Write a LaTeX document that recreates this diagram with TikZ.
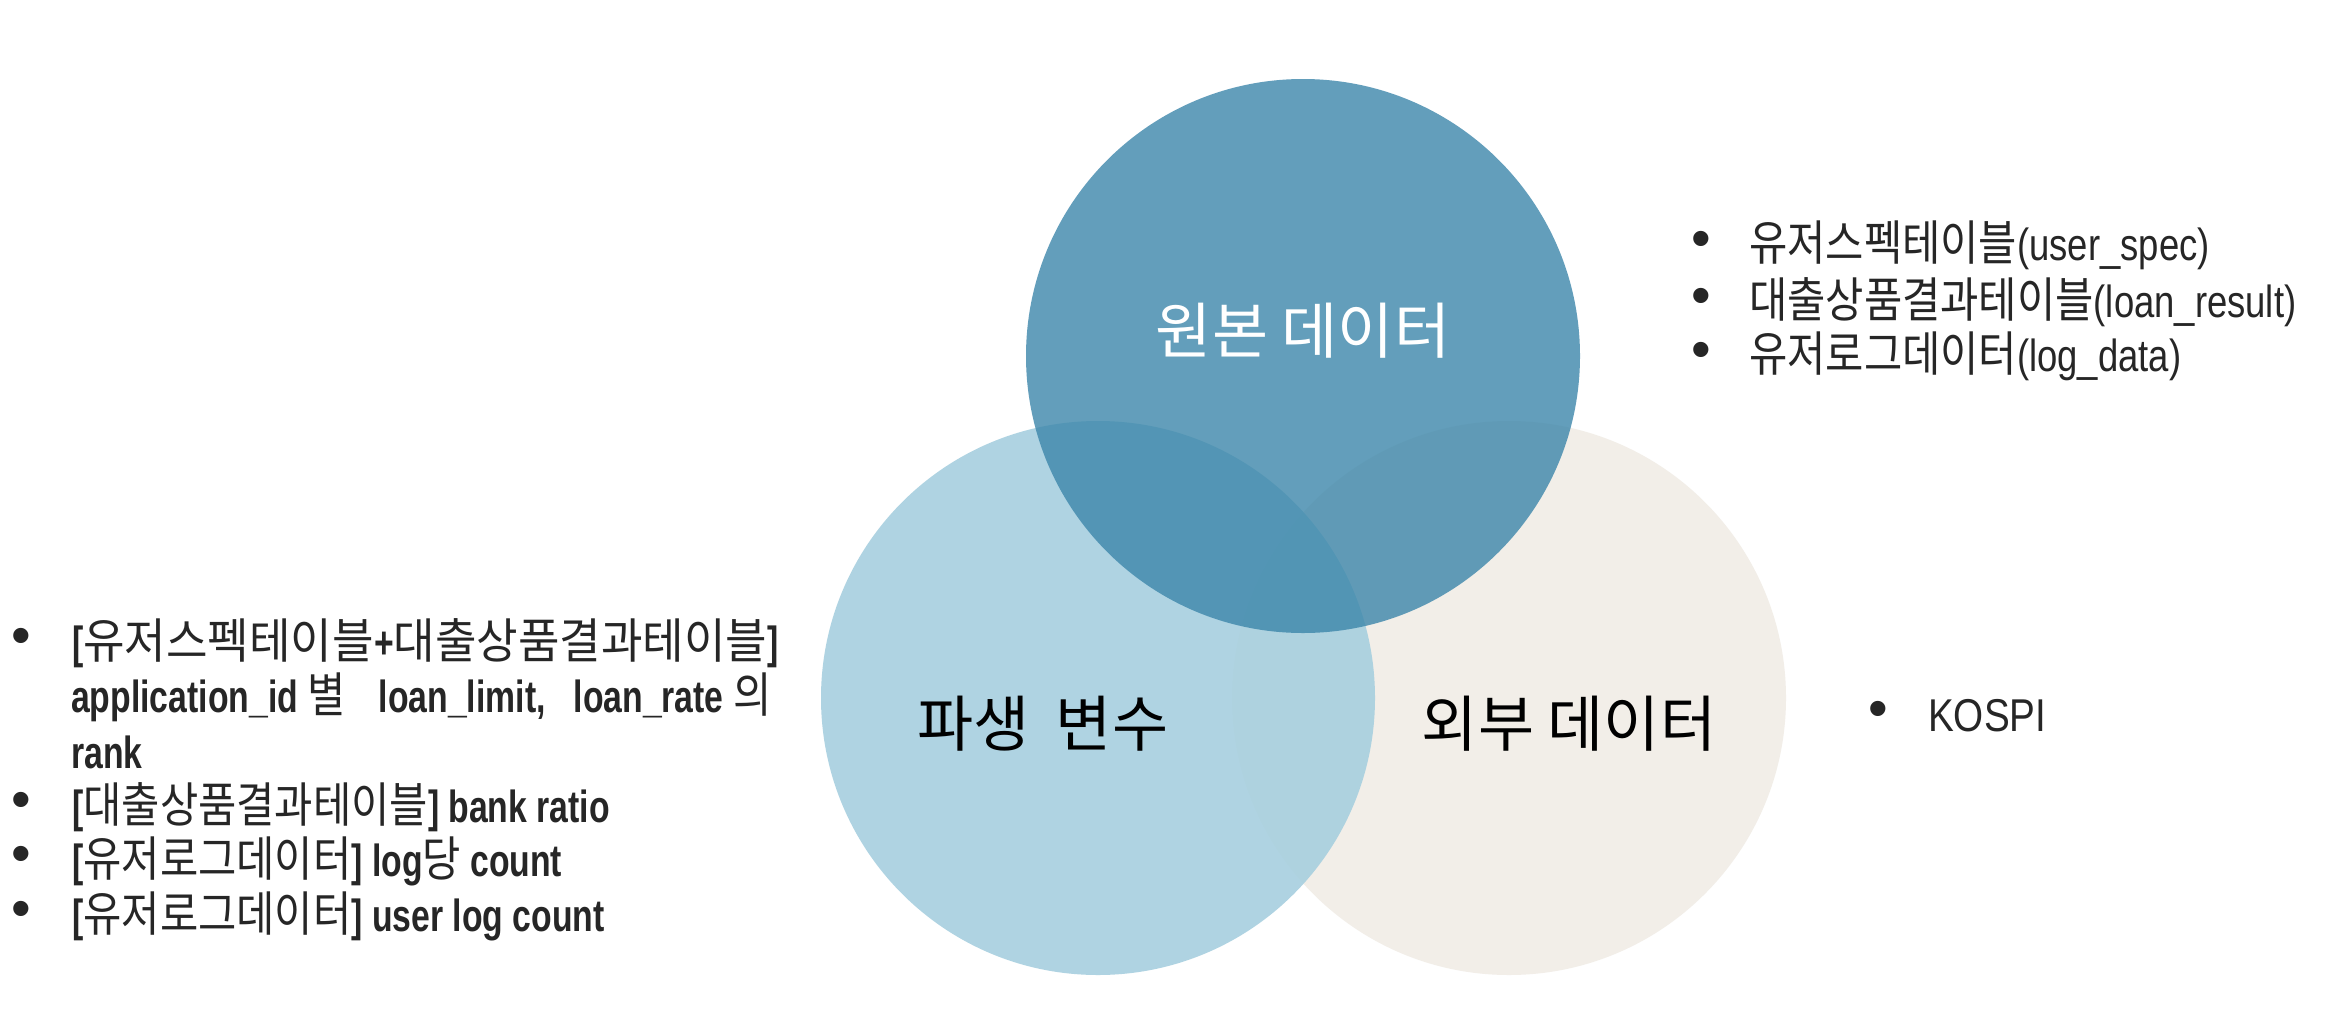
\documentclass[tikz,border=0pt]{standalone}
\usepackage{fontspec}
\newfontfamily\kr{Noto Sans CJK KR}
\newfontfamily\krA{Noto Sans CJK KR}[FakeStretch=0.94]
\newfontfamily\krB{Noto Sans CJK KR}[FakeStretch=0.867]
\newfontfamily\laB{Liberation Sans}[FakeStretch=0.75]
\newfontfamily\laR{Liberation Sans}[FakeStretch=0.81]
\newfontfamily\laK{Liberation Sans}[FakeStretch=0.84]
\newfontfamily\bulf{Liberation Sans}
\newcommand\kA[1]{{\krA\mdseries\fontsize{48}{52}\selectfont #1}}
\newcommand\kB[1]{{\krB\mdseries\fontsize{48}{52}\selectfont #1}}
\definecolor{orgc}{RGB}{60,134,170}
\definecolor{derc}{RGB}{167,207,223}
\definecolor{extc}{RGB}{242,238,232}
\definecolor{txt}{RGB}{38,38,38}
\tikzset{
  circ/.style={circle, minimum size=554pt, inner sep=0pt, draw=none},
  lbl/.style={inner sep=0pt, font=\kr\fontsize{61}{66}\selectfont, text=black},
  lst/.style={anchor=west, inner sep=0pt, text=txt, font=\laB\bfseries\fontsize{45}{50}\selectfont, text height=40pt, text depth=4pt},
  lstR/.style={anchor=west, inner sep=0pt, text=txt, font=\laR\fontsize{45}{50}\selectfont, text height=40pt, text depth=4pt},
  bul/.style={anchor=center, inner sep=0pt, text=txt, font=\bulf\fontsize{56}{60}\selectfont, text height=40pt, text depth=4pt}
}
\begin{document}
\begin{tikzpicture}[x=1pt,y=-1pt]
\useasboundingbox (0,0) rectangle (2340,1034);
\fill[white] (0,0) rectangle (2340,1034);
% circles
\node[circ, fill=extc] (ext) at (1509,698) {};
\node[circ, fill=derc, fill opacity=0.9] (der) at (1098,698) {};
\node[circ, fill=orgc, fill opacity=0.8] (org) at (1303,356) {};
% circle labels
\node[lbl, text=white] (orgl) at (1303,331) {원본 데이터};
\node[lbl] (derl) at (1043,724) {파생\hspace{0.2em} 변수};
\node[lbl] (extl) at (1569,724) {외부 데이터};
% right list
\node[bul] (rb1) at (1701,239) {•};
\node[lstR] (r1) at (1749,242) {\kB{유저스펙테이블}(user\_spec)};
\node[bul] (rb2) at (1701,296) {•};
\node[lstR] (r2) at (1749,299) {\kB{대출상품결과테이블}(loan\_result)};
\node[bul] (rb3) at (1701,350) {•};
\node[lstR] (r3) at (1749,353) {\kB{유저로그데이터}(log\_data)};
% left list
\node[bul] (lb1) at (21,636) {•};
\node[lst] (l1) at (72,640) {[\kA{유저스펙테이블}+\kA{대출상품결과테이블}]};
\node[lst] (l1b) at (71,694) {application\_id \kB{별}\hspace{33pt}loan\_limit,\hspace{28pt}loan\_rate \kB{의}};
\node[lst] (l1c) at (71,750) {rank};
\node[bul] (lb2) at (21,800) {•};
\node[lst] (l2) at (72,804) {[\kB{대출상품결과테이블}] bank ratio};
\node[bul] (lb3) at (21,854) {•};
\node[lst] (l3) at (72,858) {[\kB{유저로그데이터}] log\kB{당} count};
\node[bul] (lb4) at (21,909) {•};
\node[lst] (l4) at (72,913) {[\kB{유저로그데이터}] user log count};
% external
\node[bul] (kb) at (1878,709) {•};
\node[lst, font=\laK\fontsize{46}{50}\selectfont] (kospi) at (1928,713) {KOSPI};
\end{tikzpicture}
\end{document}
